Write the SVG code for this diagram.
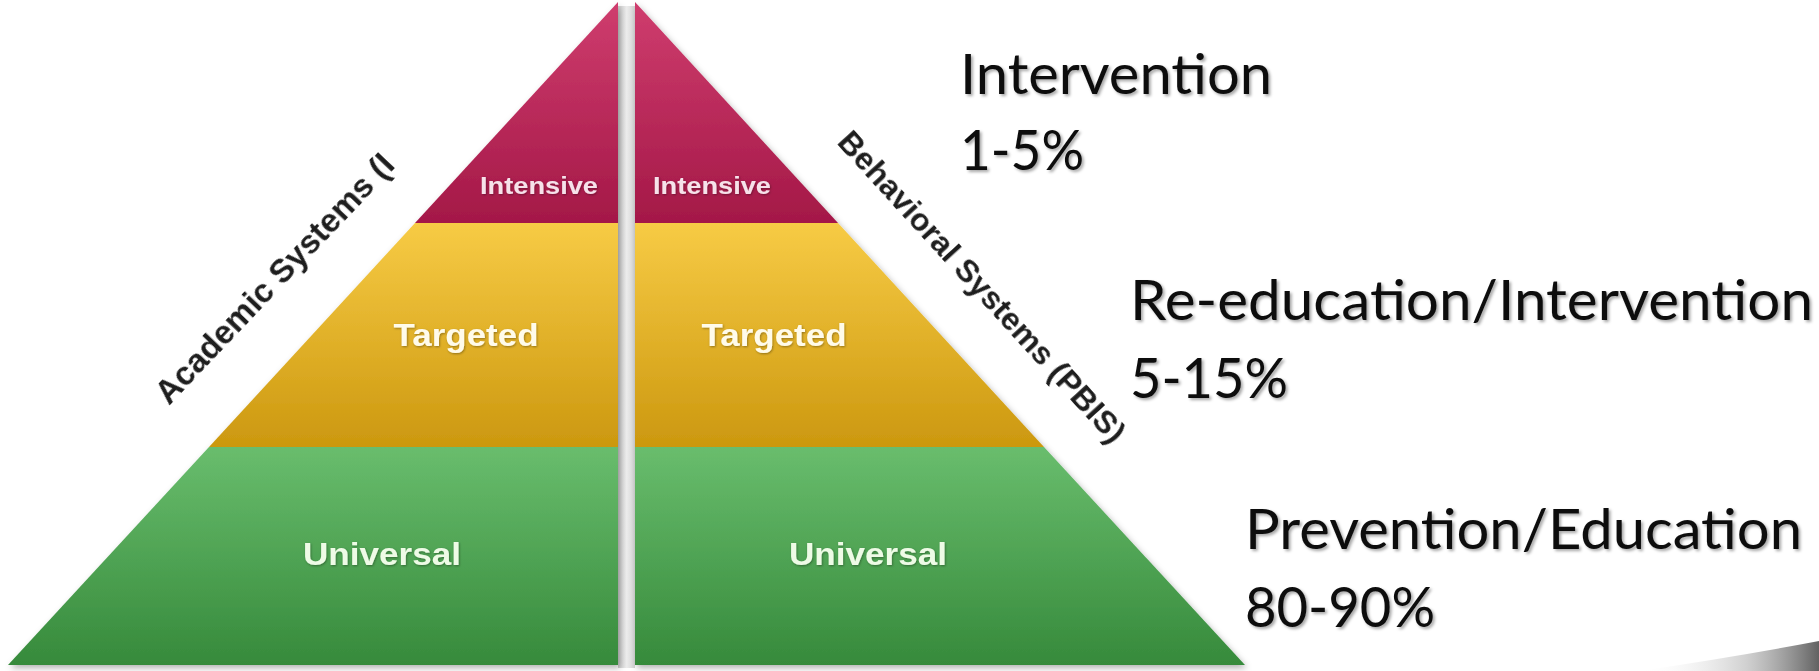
<svg xmlns="http://www.w3.org/2000/svg" width="1819" height="671" viewBox="0 0 1819 671">
<defs>
<linearGradient id="gInt" gradientUnits="userSpaceOnUse" x1="0" y1="2" x2="0" y2="223"><stop offset="0" stop-color="#cf3d6e"/><stop offset="1" stop-color="#a41847"/></linearGradient>
<linearGradient id="gTar" gradientUnits="userSpaceOnUse" x1="0" y1="223" x2="0" y2="447"><stop offset="0" stop-color="#f7cb45"/><stop offset="1" stop-color="#cc980f"/></linearGradient>
<linearGradient id="gUni" gradientUnits="userSpaceOnUse" x1="0" y1="447" x2="0" y2="665"><stop offset="0" stop-color="#69bd6d"/><stop offset="1" stop-color="#368a3b"/></linearGradient>
<linearGradient id="gGap" x1="0" y1="0" x2="1" y2="0"><stop offset="0" stop-color="#cdcdcd"/><stop offset="0.5" stop-color="#ececec"/><stop offset="1" stop-color="#d4d4d4"/></linearGradient>
<linearGradient id="gCurl" x1="0" y1="0" x2="1" y2="0"><stop offset="0" stop-color="#ffffff" stop-opacity="0"/><stop offset="0.6" stop-color="#a0a0a0" stop-opacity="0.5"/><stop offset="1" stop-color="#505050" stop-opacity="0.9"/></linearGradient>
<filter id="sh" x="-10%" y="-10%" width="120%" height="120%"><feDropShadow dx="2" dy="3" stdDeviation="3" flood-color="#000" flood-opacity="0.3"/></filter>
<filter id="ts" x="-10%" y="-30%" width="120%" height="160%"><feDropShadow dx="2" dy="2" stdDeviation="1.6" flood-color="#000" flood-opacity="0.35"/></filter>
<filter id="tt" x="-10%" y="-30%" width="120%" height="160%"><feDropShadow dx="0.8" dy="1" stdDeviation="0.8" flood-color="#000" flood-opacity="0.35"/></filter>
<style>
.tier{font-family:"Liberation Sans",Arial,sans-serif;font-weight:bold;text-anchor:middle;}
.ti{fill:#f6e2ea;font-size:24px;}
.tt{fill:#fffbea;font-size:31px;}
.tu{fill:#eefbe6;font-size:31px;}
.side{font-family:"Liberation Sans",Arial,sans-serif;font-size:33px;font-weight:bold;fill:#1e1e1e;}
.pct{font-family:Lato,"Open Sans",sans-serif;font-size:56px;fill:#111;}
</style>
</defs>
<rect width="1819" height="671" fill="#ffffff"/>
<rect x="618" y="6" width="17" height="662" fill="url(#gGap)"/>
<path d="M1640,671 Q1740,656 1819,641 L1819,671 Z" fill="url(#gCurl)"/>
<g id="left-pyramid" filter="url(#sh)">
<g id="left-intensive"><polygon points="618,2 618,223 415,223" fill="url(#gInt)"/><text class="tier ti" x="539" y="194" textLength="118" lengthAdjust="spacingAndGlyphs" filter="url(#tt)">Intensive</text></g>
<g id="left-targeted"><polygon points="415,223 618,223 618,447 209,447" fill="url(#gTar)"/><text class="tier tt" x="466" y="346" textLength="145" lengthAdjust="spacingAndGlyphs" filter="url(#tt)">Targeted</text></g>
<g id="left-universal"><polygon points="209,447 618,447 618,665 8,665" fill="url(#gUni)"/><text class="tier tu" x="382" y="565" textLength="158" lengthAdjust="spacingAndGlyphs" filter="url(#tt)">Universal</text></g>
</g>
<g id="right-pyramid" filter="url(#sh)">
<g id="right-intensive"><polygon points="635,2 838,223 635,223" fill="url(#gInt)"/><text class="tier ti" x="712" y="194" textLength="118" lengthAdjust="spacingAndGlyphs" filter="url(#tt)">Intensive</text></g>
<g id="right-targeted"><polygon points="635,223 838,223 1044,447 635,447" fill="url(#gTar)"/><text class="tier tt" x="774" y="346" textLength="145" lengthAdjust="spacingAndGlyphs" filter="url(#tt)">Targeted</text></g>
<g id="right-universal"><polygon points="635,447 1044,447 1245,665 635,665" fill="url(#gUni)"/><text class="tier tu" x="868" y="565" textLength="158" lengthAdjust="spacingAndGlyphs" filter="url(#tt)">Universal</text></g>
</g>
<g id="academic-label"><text class="side" transform="translate(169,406) rotate(-46.5)">Academic Systems (I</text></g>
<g id="behavioral-label"><text class="side" style="font-size:32px" transform="translate(836,143) rotate(47.6)">Behavioral Systems (PBIS)</text></g>
<g id="level-intervention" filter="url(#ts)">
<text class="pct" x="960" y="94" textLength="312" lengthAdjust="spacingAndGlyphs">Intervention</text>
<text class="pct" x="960" y="170" textLength="124" lengthAdjust="spacingAndGlyphs">1-5%</text>
</g>
<g id="level-reeducation" filter="url(#ts)">
<text class="pct" x="1130" y="320" textLength="683" lengthAdjust="spacingAndGlyphs">Re-education/Intervention</text>
<text class="pct" x="1130" y="398" textLength="158" lengthAdjust="spacingAndGlyphs">5-15%</text>
</g>
<g id="level-prevention" filter="url(#ts)">
<text class="pct" x="1245" y="549" textLength="557" lengthAdjust="spacingAndGlyphs">Prevention/Education</text>
<text class="pct" x="1245" y="627" textLength="190" lengthAdjust="spacingAndGlyphs">80-90%</text>
</g>
</svg>
